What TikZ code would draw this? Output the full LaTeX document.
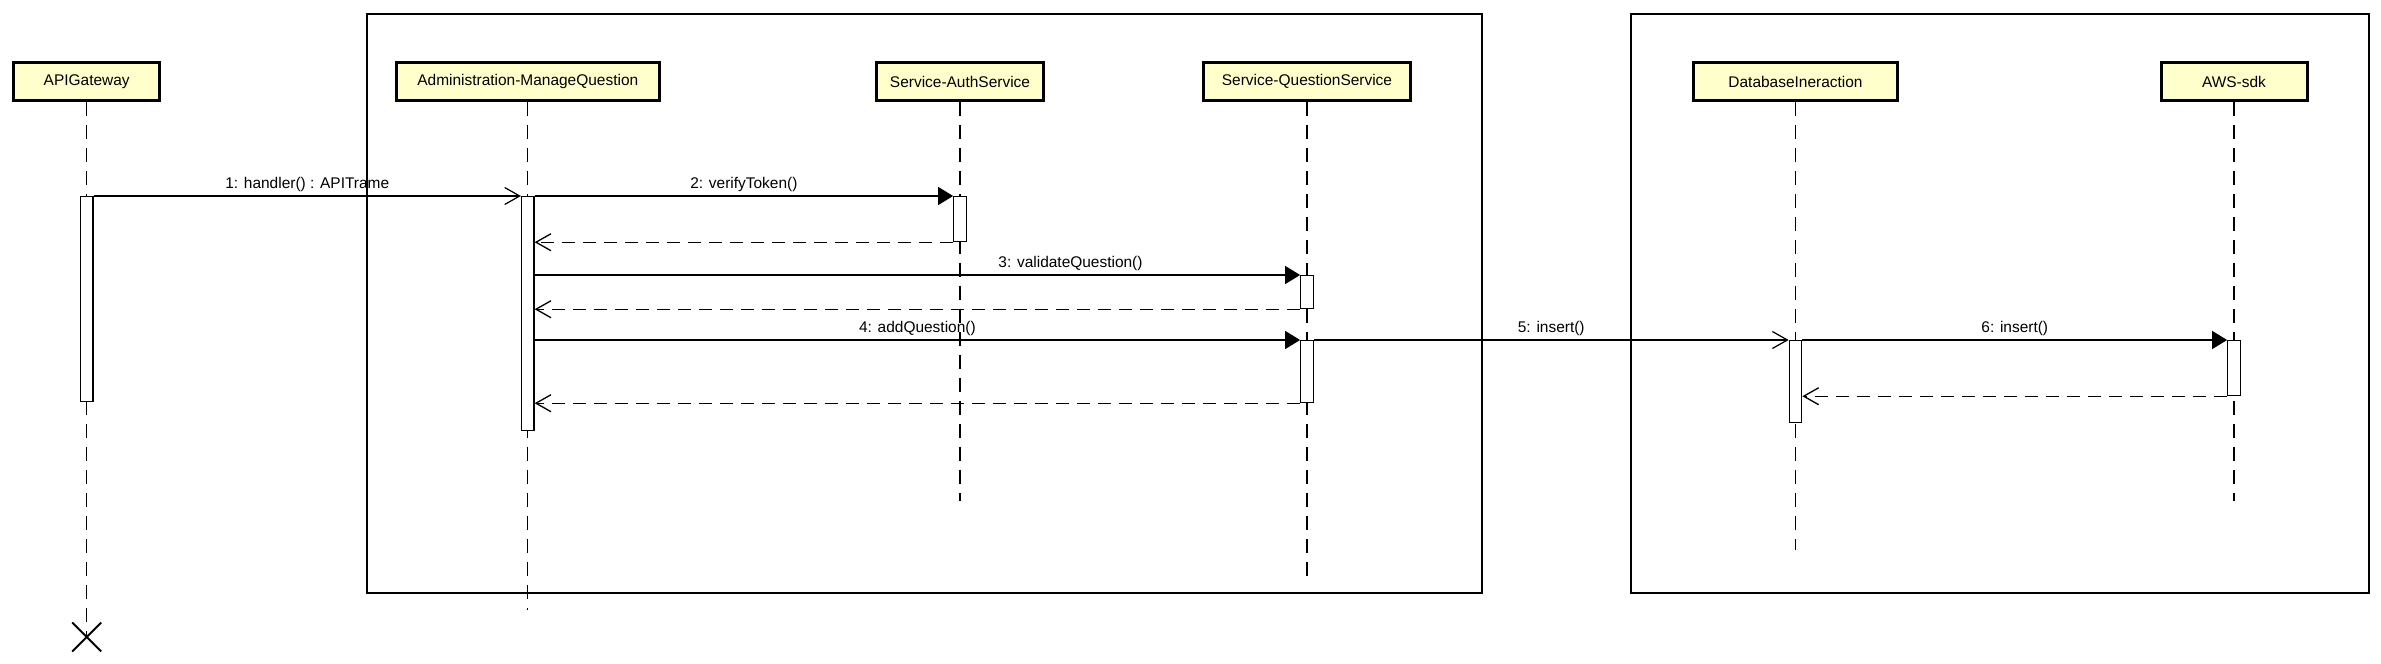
\documentclass[tikz,border=0pt]{standalone}
\usepackage{fontspec}
\setmainfont{Liberation Sans}
\usetikzlibrary{arrows.meta}
\definecolor{headfill}{HTML}{FFFFCC}
\tikzstyle{object} = [
    rectangle,
    minimum height=0.76cm,
    line width=1.7pt,
    draw=black,
    fill=headfill,
    font=\fontsize{8.8}{10}\selectfont
]
\tikzstyle{activation} = [
    rectangle,
    anchor=north,
    minimum width=0.25cm,
    inner sep=0pt,
    draw=black,
    fill=white,
    line width=0.7pt
]
\tikzstyle{lifeline} = [line width=0.7pt, dash pattern=on 0.28cm off 0.18cm]
\tikzstyle{frame} = [draw=black, line width=0.8pt]
\tikzstyle{call} = [line width=0.7pt, -{Triangle[length=0.3cm,width=0.36cm]}]
\tikzstyle{async} = [line width=0.7pt, -{Straight Barb[length=0.3cm,width=0.34cm]}]
\tikzstyle{reply} = [
    line width=0.75pt,
    dash pattern=on 0.26cm off 0.16cm,
    -{Straight Barb[length=0.3cm,width=0.34cm]}
]
\tikzstyle{msg} = [above, inner sep=2pt, font=\fontsize{8.8}{10}\selectfont]

\begin{document}
\begin{tikzpicture}

\useasboundingbox (0,0) rectangle (47.62,-13.28);

% frames
\draw [frame] (7.34,-0.28) rectangle (29.64,-11.86);
\draw [frame] (32.62,-0.28) rectangle (47.38,-11.86);

% objects
\node (api) [object, minimum width=2.92cm] at (1.734,-1.63) {APIGateway};
\node (adm) [object, minimum width=5.26cm] at (10.556,-1.63) {Administration-ManageQuestion};
\node (auth) [object, minimum width=3.34cm] at (19.2,-1.63) {Service-AuthService};
\node (qs) [object, minimum width=4.14cm] at (26.14,-1.63) {Service-QuestionService};
\node (db) [object, minimum width=4.08cm] at (35.91,-1.63) {DatabaseIneraction};
\node (aws) [object, minimum width=2.92cm] at (44.68,-1.63) {AWS-sdk};

% ends of lifelines
\coordinate (apiend) at (1.734,-12.74);
\coordinate (admend) at (10.556,-12.20);
\coordinate (authend) at (19.2,-10.02);
\coordinate (qsend) at (26.14,-11.64);
\coordinate (dbend) at (35.91,-11.00);
\coordinate (awsend) at (44.68,-10.02);

\draw [lifeline] (api.south) -- (apiend);
\draw [lifeline] (adm.south) -- (admend);
\draw [lifeline] (auth.south) -- (authend);
\draw [lifeline] (qs.south) -- (qsend);
\draw [lifeline] (db.south) -- (dbend);
\draw [lifeline] (aws.south) -- (awsend);

\draw [line width=1.1pt] ([shift={(-0.29,0.29)}]apiend) -- ([shift={(0.29,-0.29)}]apiend)
    ([shift={(-0.29,-0.29)}]apiend) -- ([shift={(0.29,0.29)}]apiend);

% activations
\node (actapi) [activation, minimum height=4.10cm] at (1.734,-3.92) {};
\node (actadm) [activation, minimum height=4.68cm] at (10.556,-3.92) {};
\node (actauth) [activation, minimum height=0.90cm] at (19.2,-3.92) {};
\node (actqs1) [activation, minimum height=0.66cm] at (26.14,-5.50) {};
\node (actqs2) [activation, minimum height=1.24cm] at (26.14,-6.80) {};
\node (actdb) [activation, minimum height=1.64cm] at (35.91,-6.80) {};
\node (actaws) [activation, minimum height=1.10cm] at (44.68,-6.80) {};

% messages
\draw [async] (actapi.north east) -- node [msg] {1: handler() : APITrame} (actadm.north west);
\draw [call] (actadm.north east) -- node [msg] {2: verifyToken()} (actauth.north west);
\draw [reply] (actauth.south west) -- (actadm.east |- actauth.south);
\draw [call] (actadm.east |- actqs1.north) -- node [msg, pos=0.7] {3: validateQuestion()} (actqs1.north west);
\draw [reply] (actqs1.south west) -- (actadm.east |- actqs1.south);
\draw [call] (actadm.east |- actqs2.north) -- node [msg] {4: addQuestion()} (actqs2.north west);
\draw [async] (actqs2.north east) -- node [msg] {5: insert()} (actdb.north west);
\draw [call] (actdb.north east) -- node [msg] {6: insert()} (actaws.north west);
\draw [reply] (actaws.south west) -- (actdb.east |- actaws.south);
\draw [reply] (actqs2.south west) -- (actadm.east |- actqs2.south);

\end{tikzpicture}
\end{document}
